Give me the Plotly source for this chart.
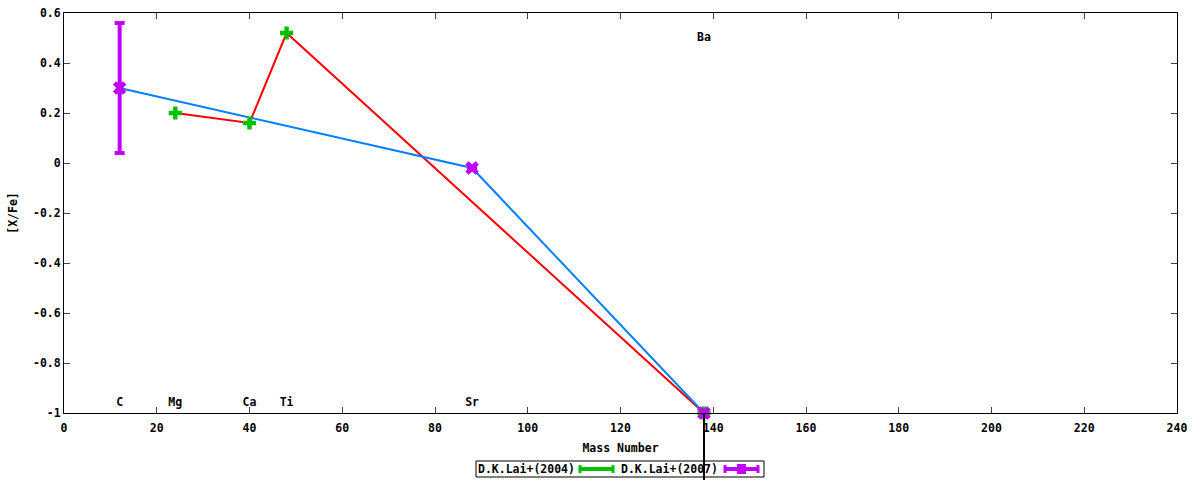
import plotly.graph_objects as go

# ---- data ----
lai2004_elem = ["Mg", "Ca", "Ti", "Ba"]
lai2004_mass = [24, 40, 48, 138]
lai2004_xfe = [0.20, 0.16, 0.52, -1.0]

lai2007_elem = ["C", "Sr", "Ba"]
lai2007_mass = [12, 88, 138]
lai2007_xfe = [0.30, -0.02, -1.0]
lai2007_err = [0.26, 0.0, 0.0]

label_elem = ["C", "Mg", "Ca", "Ti", "Sr", "Ba"]
label_mass = [12, 24, 40, 48, 88, 138]
label_y = [-0.96, -0.96, -0.96, -0.96, -0.96, 0.5]

xticks = [0, 20, 40, 60, 80, 100, 120, 140, 160, 180, 200, 220, 240]
yticks = [0.6, 0.4, 0.2, 0, -0.2, -0.4, -0.6, -0.8, -1]
ytick_text = ["0.6", "0.4", "0.2", "0", "-0.2", "-0.4", "-0.6", "-0.8", "-1"]

series_names = ["D.K.Lai+(2004)", "D.K.Lai+(2007)"]

GREEN = "#00c000"
PURPLE = "#c000ff"
RED = "#ff0000"
BLUE = "#0080ff"
FONT = dict(family="DejaVu Sans Mono", size=11.5, color="black", weight="bold")

fig = go.Figure()

fig.add_trace(go.Scatter(x=lai2004_mass, y=lai2004_xfe, mode="lines",
                         line=dict(color=RED, width=2), showlegend=False, hoverinfo="skip"))
fig.add_trace(go.Scatter(x=lai2007_mass, y=lai2007_xfe, mode="lines",
                         line=dict(color=BLUE, width=2), showlegend=False, hoverinfo="skip"))

fig.add_trace(go.Scatter(x=lai2004_mass, y=lai2004_xfe, mode="markers", name=series_names[0],
                         marker=dict(symbol="cross", size=11, color=GREEN),
                         showlegend=False, cliponaxis=False))
fig.add_trace(go.Scatter(x=lai2007_mass, y=lai2007_xfe, mode="markers", name=series_names[1],
                         marker=dict(symbol="x", size=12, color=PURPLE),
                         error_y=dict(type="data", array=lai2007_err, color=PURPLE,
                                      thickness=4, width=5),
                         showlegend=False, cliponaxis=False))

fig.add_trace(go.Scatter(x=label_mass, y=label_y, mode="text", text=label_elem,
                         textfont=FONT, textposition="middle center",
                         showlegend=False, hoverinfo="skip"))

# vertical black line below the Ba point
fig.add_shape(type="line", xref="x", yref="paper", x0=lai2007_mass[-1], x1=lai2007_mass[-1],
              y0=0, y1=-0.3, line=dict(color="black", width=2), layer="above")

# ---- manual legend (gnuplot style: text then sample) ----
W = 1113.0
H = 400.0
def px(p):
    return (p - 64) / W
def py(p):
    return (413 - p) / H

fig.add_shape(type="rect", xref="paper", yref="paper", x0=px(476), x1=px(764),
              y0=py(477), y1=py(461), line=dict(color="black", width=1),
              fillcolor="white", layer="below")
fig.add_annotation(xref="paper", yref="paper", x=px(476), y=py(469), text=series_names[0],
                   showarrow=False, xanchor="left", yanchor="middle", font=FONT)
fig.add_annotation(xref="paper", yref="paper", x=px(619), y=py(469), text=series_names[1],
                   showarrow=False, xanchor="left", yanchor="middle", font=FONT)
for (a, b, col) in [(580, 613, GREEN), (725, 758, PURPLE)]:
    fig.add_shape(type="line", xref="paper", yref="paper", x0=px(a), x1=px(b),
                  y0=py(469), y1=py(469), line=dict(color=col, width=4))
    for e in (a, b):
        fig.add_shape(type="line", xref="paper", yref="paper", x0=px(e), x1=px(e),
                      y0=py(465), y1=py(473), line=dict(color=col, width=3))
fig.add_shape(type="rect", xref="paper", yref="paper", x0=px(737), x1=px(746),
              y0=py(474), y1=py(464), line=dict(color=PURPLE, width=0), fillcolor=PURPLE)

fig.update_layout(
    width=1200, height=480,
    margin=dict(l=64, r=23, t=13, b=67, autoexpand=False),
    paper_bgcolor="white", plot_bgcolor="white",
    font=FONT,
    showlegend=False,
)
fig.update_xaxes(range=[0, 240], tickvals=xticks, ticks="inside", ticklen=6,
                 showline=True, linecolor="black", linewidth=1, mirror="ticks",
                 showgrid=False, zeroline=False, tickfont=FONT, automargin=False,
                 ticklabelstandoff=4,
                 title=dict(text="Mass Number", font=FONT, standoff=10))
fig.update_yaxes(range=[-1, 0.6], tickvals=yticks, ticktext=ytick_text, ticks="inside",
                 ticklen=6, showline=True, linecolor="black", linewidth=1, mirror="ticks",
                 showgrid=False, zeroline=False, tickfont=FONT, automargin=False,
                 title=dict(text="[X/Fe]", font=FONT, standoff=12))

fig.write_html("out.html",
               config={"displayModeBar": False},
               post_script="document.body.style.margin='0';document.body.style.padding='0';"
                           "document.body.style.overflow='hidden';")
